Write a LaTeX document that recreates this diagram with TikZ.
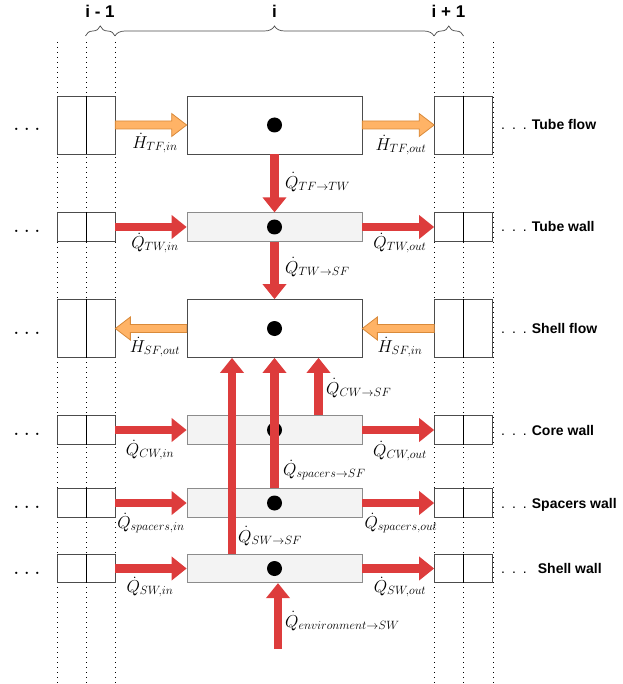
\documentclass[tikz,border=0pt]{standalone}
\usepackage{fontspec}
\setsansfont{Liberation Sans}
\usetikzlibrary{arrows.meta,calc,decorations.pathreplacing}
\definecolor{redar}{HTML}{DD3C3C}
\definecolor{orfill}{HTML}{FFB366}
\definecolor{oredge}{HTML}{D98A3A}
\definecolor{boxgray}{HTML}{F3F3F3}
\newcommand{\oarR}[2]{\draw[orangearrow] ($(#1)+(0,-4)$) -- ($(#2)+(-15,-4)$) -- ($(#2)+(-15,-11.5)$) -- (#2) -- ($(#2)+(-15,11.5)$) -- ($(#2)+(-15,4)$) -- ($(#1)+(0,4)$) -- cycle;}
\newcommand{\oarL}[2]{\draw[orangearrow] ($(#1)+(0,-4)$) -- ($(#2)+(15,-4)$) -- ($(#2)+(15,-11.5)$) -- (#2) -- ($(#2)+(15,11.5)$) -- ($(#2)+(15,4)$) -- ($(#1)+(0,4)$) -- cycle;}
\begin{document}
\begin{tikzpicture}[x=1pt,y=-1pt,
  tallbox/.style={draw=black!70,fill=white,line width=0.7pt,minimum width=175pt,minimum height=58pt,inner sep=0},
  thinbox/.style={draw=black!45,fill=boxgray,line width=0.7pt,minimum width=175pt,minimum height=28.5pt,inner sep=0},
  cell/.style={draw=black!70,line width=0.7pt,minimum width=58pt,inner sep=0},
  midline/.style={draw=black,line width=0.9pt},
  dotline/.style={draw=black,line width=1pt,dash pattern=on 1pt off 4pt},
  blackdot/.style={circle,fill=black,minimum size=15pt,inner sep=0},
  redarrow/.style={draw=redar,line width=8.5pt,-{Triangle[width=23pt,length=15pt]}},
  orangearrow/.style={draw=oredge,fill=orfill,line width=0.8pt,line join=miter},
  lab/.style={font=\fontsize{16.5}{19}\selectfont,inner sep=0},
  rowlab/.style={font=\fontsize{14}{16}\selectfont\sffamily,anchor=base west,inner sep=0},
  leftdots/.style={font=\fontsize{16}{18}\selectfont\bfseries,anchor=base,inner sep=0},
  toplab/.style={font=\fontsize{17}{20}\selectfont\sffamily\bfseries,inner sep=0},
  bracestyle/.style={draw=black!70,line width=0.7pt,decorate,decoration={brace,amplitude=10pt}}
]
\useasboundingbox (0,0) rectangle (622,684);

% dotted guides
\foreach \x in {57,86,115,434,463.5,493} \draw[dotline] (\x,42) -- (\x,684);

% top braces and indices
\draw[bracestyle] (85.5,36) -- (115,36);
\draw[bracestyle] (115,36) -- (434,36);
\draw[bracestyle] (434,36) -- (463.5,36);
\node[toplab] (im1) at (100,11) {i - 1};
\node[toplab] (i0) at (274.5,11) {i};
\node[toplab] (ip1) at (448.5,11) {i + 1};

% main boxes
\node[tallbox] (tf) at (274.5,125) {};
\node[thinbox] (tw) at (274.5,227) {};
\node[tallbox] (sf) at (274.5,328.5) {};
\node[thinbox] (cw) at (274.5,430) {};
\node[thinbox] (sp) at (274.5,503) {};
\node[thinbox] (sw) at (274.5,568.5) {};

% neighbour cells
\foreach \n/\y/\h in {tf/125/58,tw/227/28.5,sf/328.5/58,cw/430/28.5,sp/503/28.5,sw/568.5/28.5}{
  \node[cell,minimum height=\h pt] (\n L) at (86,\y) {};
  \node[cell,minimum height=\h pt] (\n R) at (463.5,\y) {};
  \draw[midline] (\n L.north) -- (\n L.south);
  \draw[midline] (\n R.north) -- (\n R.south);
  \node[leftdots] (\n dl) at (27,\y+5.5) {.\hspace{5.5pt}.\hspace{5.5pt}.};
}

% dots in boxes
\foreach \n in {tf,tw,sf,cw,sp,sw} \node[blackdot] (\n c) at (\n.center) {};

% row labels
\node[rowlab] (rl1) at (501,130) {.\hspace{7pt}.\hspace{7pt}.\hspace{5pt}\textbf{Tube flow}};
\node[rowlab] (rl2) at (501,232) {.\hspace{7pt}.\hspace{7pt}.\hspace{5pt}\textbf{Tube wall}};
\node[rowlab] (rl3) at (501,333.5) {.\hspace{7pt}.\hspace{7pt}.\hspace{5pt}\textbf{Shell flow}};
\node[rowlab] (rl4) at (501,435) {.\hspace{7pt}.\hspace{7pt}.\hspace{5pt}\textbf{Core wall}};
\node[rowlab] (rl5) at (501,508) {.\hspace{7pt}.\hspace{7pt}.\hspace{5pt}\textbf{Spacers wall}};
\node[rowlab] (rl6) at (501,573.5) {.\hspace{7pt}.\hspace{7pt}.\hspace{11pt}\textbf{Shell wall}};

% orange enthalpy arrows
\oarR{tfL.east}{tf.west}
\oarR{tf.east}{tfR.west}
\oarL{sf.west}{sfL.east}
\oarL{sfR.west}{sf.east}

% red horizontal arrows
\foreach \n in {tw,cw,sp,sw}{
  \draw[redarrow] (\n L.east) -- (\n.west);
  \draw[redarrow] (\n.east) -- (\n R.west);
}

% red vertical arrows
\coordinate (xa) at (232,0);
\coordinate (xc) at (318.5,0);
\coordinate (env) at (278,649);
\draw[redarrow] (tf.south) -- (tw.north);
\draw[redarrow] (tw.south) -- (sf.north);
\draw[redarrow] (sw.north -| xa) -- (sf.south -| xa);
\draw[redarrow] (sp.north) -- (sf.south);
\draw[redarrow] (cw.north -| xc) -- (sf.south -| xc);
\draw[redarrow] (env) -- (env |- sw.south);

% labels
\node[lab] (h1) at (155,143) {$\dot H_{TF,in}$};
\node[lab] (h2) at (401,145) {$\dot H_{TF,out}$};
\node[lab,anchor=west] (q1) at (285,182) {$\dot Q_{TF\rightarrow TW}$};
\node[lab] (q2) at (155,243) {$\dot Q_{TW,in}$};
\node[lab] (q3) at (400,243) {$\dot Q_{TW,out}$};
\node[lab,anchor=west] (q4) at (285,267) {$\dot Q_{TW\rightarrow SF}$};
\node[lab] (h3) at (155,347) {$\dot H_{SF,out}$};
\node[lab] (h4) at (400,347) {$\dot H_{SF,in}$};
\node[lab,anchor=west] (q5) at (326,388) {$\dot Q_{CW\rightarrow SF}$};
\node[lab] (q6) at (150,450) {$\dot Q_{CW,in}$};
\node[lab] (q7) at (400,451) {$\dot Q_{CW,out}$};
\node[lab,anchor=west] (q8) at (283,470) {$\dot Q_{spacers\rightarrow SF}$};
\node[lab] (q9) at (151,523) {$\dot Q_{spacers,in}$};
\node[lab] (q10) at (401,523) {$\dot Q_{spacers,out}$};
\node[lab,anchor=west] (q11) at (238,536) {$\dot Q_{SW\rightarrow SF}$};
\node[lab] (q12) at (150,587) {$\dot Q_{SW,in}$};
\node[lab] (q13) at (400,587) {$\dot Q_{SW,out}$};
\node[lab,anchor=west] (q14) at (285,621) {$\dot Q_{environment\rightarrow SW}$};
\end{tikzpicture}
\end{document}
